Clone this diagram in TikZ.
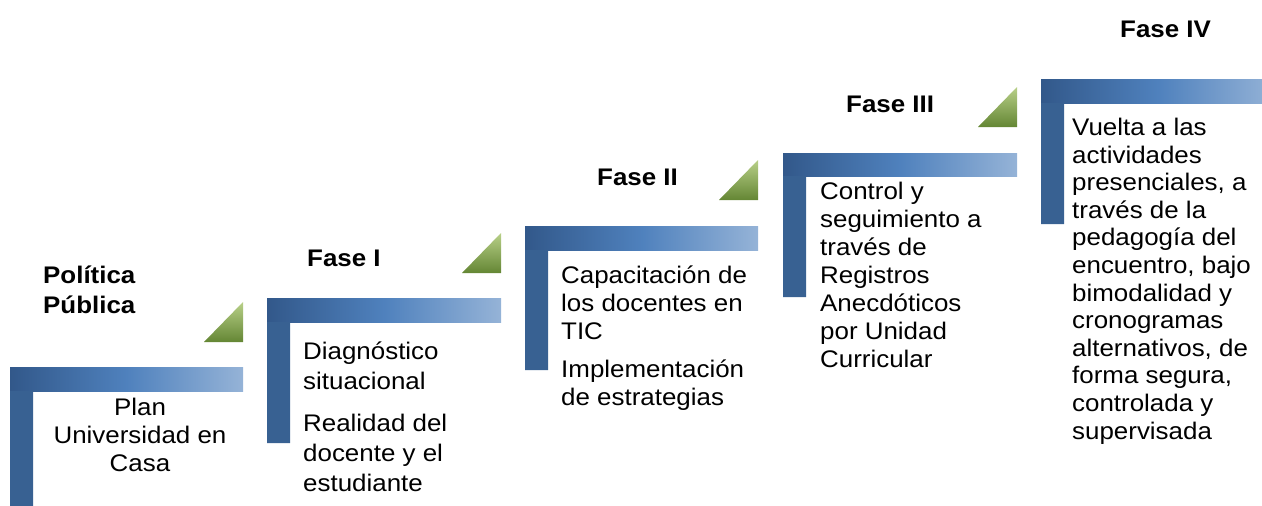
\documentclass[tikz,border=0pt]{standalone}
\usepackage{fontspec}
\setmainfont[FakeStretch=1.08]{Liberation Sans}
\usetikzlibrary{calc}
\definecolor{barleft}{RGB}{50,88,138}
\definecolor{barmid}{RGB}{79,129,189}
\definecolor{barright}{RGB}{149,179,215}
\definecolor{barpost}{RGB}{56,97,146}
\definecolor{tritop}{RGB}{184,208,136}
\definecolor{tribot}{RGB}{100,134,52}

\begin{document}
\begin{tikzpicture}[x=1pt,y=-1pt,
  bar/.style={left color=barleft, right color=barright, middle color=barmid},
  post/.style={fill=barpost},
  wedge/.style={top color=tritop, bottom color=tribot},
  phase/.style={font=\fontsize{24}{30}\selectfont\bfseries, align=left, inner sep=0pt, anchor=base west},
  body/.style={font=\fontsize{24}{28}\selectfont, align=left, inner sep=0pt, anchor=base west}]
\useasboundingbox (0,0) rectangle (1262,506);
\clip (0,0) rectangle (1262,506);
% steps
\shade[bar] (10,367) rectangle (243,391);
\shade[bar] (267,298) rectangle (501,322);
\shade[bar] (525,226) rectangle (758,250);
\shade[bar] (783,153) rectangle (1017,176);
\shade[bar] (1041,79) rectangle (1275,103);
\fill[post] (10,391) rectangle (33,512) (267,322) rectangle (290,443) (525,250) rectangle (548,370)
  (783,176) rectangle (806,297) (1041,103) rectangle (1064,224);
% triangles
\shade[wedge] (204,342) -- (243,342) -- (243,302) -- cycle;
\shade[wedge] (462,273) -- (501,273) -- (501,233) -- cycle;
\shade[wedge] (719,200) -- (758,200) -- (758,160) -- cycle;
\shade[wedge] (978,127) -- (1017,127) -- (1017,87) -- cycle;
% labels (base = last line)
\node[phase] (politica) at (43,313) {Política\\Pública};
\node[phase] (fase1) at (307,266) {Fase I};
\node[phase] (fase2) at (597,185) {Fase II};
\node[phase] (fase3) at (846,112) {Fase III};
\node[phase] (fase4) at (1120,37) {Fase IV};
\node[body, align=center, anchor=base] (plan) at (140,471) {Plan\\Universidad en\\Casa};
\node[body, font=\fontsize{24}{30}\selectfont] (diag) at (303,491) {Diagnóstico\\situacional\\[12pt]Realidad del\\docente y el\\estudiante};
\node[body] (capac) at (561,405) {Capacitación de\\los docentes en\\TIC\\[10pt]Implementación\\de estrategias};
\node[body] (control) at (820,367) {Control y\\seguimiento a\\través de\\Registros\\Anecdóticos\\por Unidad\\Curricular};
\node[body, font=\fontsize{24}{27.6}\selectfont] (vuelta) at (1072,439) {Vuelta a las\\actividades\\presenciales, a\\través de la\\pedagogía del\\encuentro, bajo\\bimodalidad y\\cronogramas\\alternativos, de\\forma segura,\\controlada y\\supervisada};
\end{tikzpicture}
\end{document}
